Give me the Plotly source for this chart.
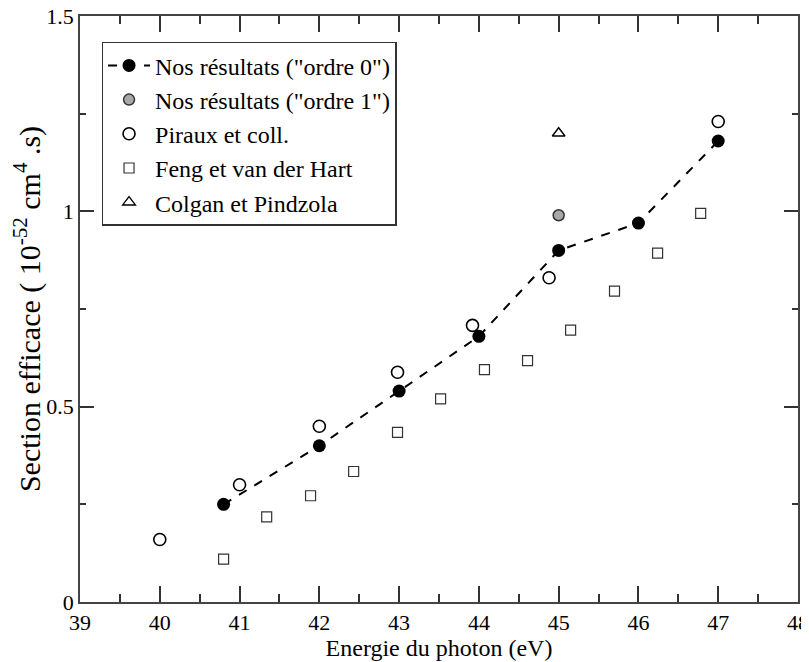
import plotly.graph_objects as go

# Nos résultats ("ordre 0")
ordre0_e = [40.8, 42.0, 43.0, 44.0, 45.0, 46.0, 47.0]
ordre0_s = [0.25, 0.40, 0.54, 0.68, 0.90, 0.97, 1.18]

# Nos résultats ("ordre 1")
ordre1_e = [45.0]
ordre1_s = [0.99]

# Piraux et coll.
piraux_e = [40.0, 41.0, 42.0, 42.98, 43.92, 44.88, 47.0]
piraux_s = [0.16, 0.30, 0.45, 0.588, 0.708, 0.83, 1.23]

# Feng et van der Hart
feng_e = [40.8, 41.34, 41.89, 42.43, 42.98, 43.52, 44.07, 44.61, 45.15, 45.70, 46.24, 46.78]
feng_s = [0.11, 0.218, 0.272, 0.334, 0.434, 0.52, 0.595, 0.618, 0.696, 0.796, 0.893, 0.995]

# Colgan et Pindzola
colgan_e = [45.0]
colgan_s = [1.20]

FONT = "Liberation Serif"

fig = go.Figure()

fig.add_trace(go.Scatter(
    x=ordre0_e, y=ordre0_s, mode="lines+markers",
    name='Nos résultats ("ordre 0")',
    line=dict(color="black", width=2, dash="dash"),
    marker=dict(symbol="circle", size=13, color="black"),
))
fig.add_trace(go.Scatter(
    x=ordre1_e, y=ordre1_s, mode="markers",
    name='Nos résultats ("ordre 1")',
    marker=dict(symbol="circle", size=11, color="#a8a8a8",
                line=dict(color="#333333", width=1.5)),
))
fig.add_trace(go.Scatter(
    x=piraux_e, y=piraux_s, mode="markers",
    name="Piraux et coll.",
    marker=dict(symbol="circle-open", size=12, color="black",
                line=dict(width=1.6)),
))
fig.add_trace(go.Scatter(
    x=feng_e, y=feng_s, mode="markers",
    name="Feng et van der Hart",
    marker=dict(symbol="square-open", size=10, color="#333333",
                line=dict(width=1.2)),
))
fig.add_trace(go.Scatter(
    x=colgan_e, y=colgan_s, mode="markers",
    name="Colgan et Pindzola",
    marker=dict(symbol="triangle-up-open", size=11, color="black",
                line=dict(width=1.4)),
))

axis_common = dict(
    showgrid=False,
    zeroline=False,
    showline=True,
    automargin=False,
    linecolor="#444444",
    linewidth=1.5,
    mirror="ticks",
    ticks="inside",
    ticklen=16,
    tickwidth=1.5,
    tickcolor="#333333",
    ticklabeloverflow="allow",
    tickfont=dict(family=FONT, size=22, color="black"),
)

# page body has an 8px margin, so the figure is a bit smaller than the window
fig.update_layout(
    width=801,
    height=654,
    margin=dict(l=72, r=11, t=8, b=60),
    paper_bgcolor="white",
    plot_bgcolor="white",
    font=dict(family=FONT, size=22, color="black"),
    xaxis=dict(
        axis_common,
        range=[39, 48],
        dtick=1,
        tick0=39,
        minor=dict(dtick=0.5, ticks="inside", ticklen=8, tickwidth=1.5, tickcolor="#333333"),
        title=dict(text="Energie du photon (eV)", font=dict(family=FONT, size=24), standoff=2),
    ),
    yaxis=dict(
        axis_common,
        range=[0, 1.5],
        tickvals=[0, 0.5, 1, 1.5],
        ticktext=["0", "0.5", "1", "1.5"],
        ticklen=14,
        minor=dict(tickvals=[0.25, 0.75, 1.25], ticks="inside", ticklen=6, tickwidth=1.5, tickcolor="#333333"),
        title=dict(text="Section efficace ( 10<sup>-52</sup> cm<sup>4</sup> .s)",
                   font=dict(family=FONT, size=30), standoff=4),
    ),
    legend=dict(
        x=0.03, y=0.956, xanchor="left", yanchor="top",
        bgcolor="white",
        bordercolor="#333333",
        borderwidth=1.5,
        font=dict(family=FONT, size=24, color="black"),
        tracegroupgap=0,
        itemwidth=42,
    ),
    showlegend=True,
)

fig.write_html("out.html")
